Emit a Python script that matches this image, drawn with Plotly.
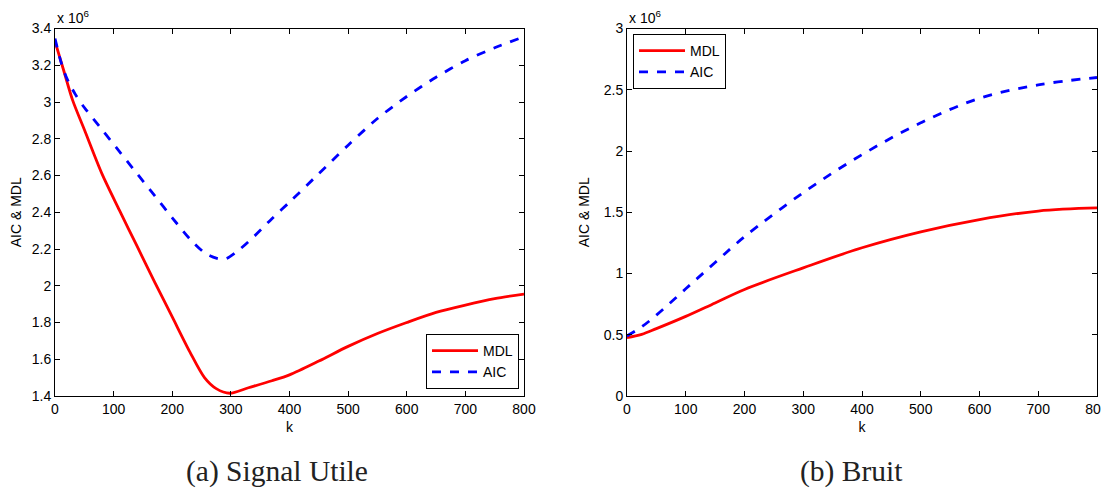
import plotly.graph_objects as go
from plotly.subplots import make_subplots

# (a) Signal Utile  -- values in units of 1e6
k_a_mdl = [0, 15, 30, 50, 80, 110, 140, 170, 200, 230, 255, 275, 298, 330, 370, 400, 450, 500, 550, 600, 650,
           700, 750, 800]
mdl_a = [3.33, 3.17, 3.01, 2.85, 2.61, 2.41, 2.215, 2.02, 1.83, 1.64, 1.50, 1.44, 1.415, 1.445, 1.483, 1.515, 1.59,
         1.67, 1.74, 1.80, 1.855, 1.895, 1.93, 1.955]
k_a_aic = [0, 10, 20, 35, 50, 80, 110, 140, 170, 200, 230, 255, 275, 290, 310, 340, 370, 400, 450, 500, 550, 600,
           650, 700, 750, 800]
aic_a = [3.345, 3.22, 3.13, 3.04, 2.97, 2.85, 2.73, 2.61, 2.49, 2.37, 2.255, 2.18, 2.15, 2.145, 2.185, 2.27, 2.365,
         2.455, 2.61, 2.765, 2.91, 3.03, 3.135, 3.225, 3.295, 3.355]

# (b) Bruit
k_b = [0, 25, 50, 100, 150, 200, 300, 400, 500, 600, 700, 800]
mdl_b = [0.476, 0.503, 0.55, 0.65, 0.76, 0.87, 1.046, 1.21, 1.34, 1.44, 1.51, 1.535]
aic_b = [0.49, 0.565, 0.66, 0.875, 1.09, 1.30, 1.66, 1.97, 2.23, 2.43, 2.54, 2.60]

x_ticks = [0, 100, 200, 300, 400, 500, 600, 700, 800]
ya_ticks = [1.4, 1.6, 1.8, 2, 2.2, 2.4, 2.6, 2.8, 3, 3.2, 3.4]
yb_ticks = [0, 0.5, 1, 1.5, 2, 2.5, 3]

W, H = 1109, 494
OFF = 8  # page body margin pushes the figure by 8px
FW, FH = W - OFF, H - OFF
FONT = "Liberation Sans, Arial"


def px_x(s):
    return (s - OFF) / FW


def px_y(s):
    return 1 - (s - OFF) / FH


fig = make_subplots(rows=1, cols=2)

fig.add_trace(go.Scatter(x=k_a_mdl, y=mdl_a, name="MDL", mode="lines", line_shape="spline",
                         line=dict(color="red", width=2.8, smoothing=0.8), legend="legend"), row=1, col=1)
fig.add_trace(go.Scatter(x=k_a_aic, y=aic_a, name="AIC", mode="lines", line_shape="spline",
                         line=dict(color="blue", width=2.8, dash="dash", smoothing=0.8), legend="legend"), row=1, col=1)
fig.add_trace(go.Scatter(x=k_b, y=mdl_b, name="MDL", mode="lines", line_shape="spline",
                         line=dict(color="red", width=2.8), legend="legend2"), row=1, col=2)
fig.add_trace(go.Scatter(x=k_b, y=aic_b, name="AIC", mode="lines", line_shape="spline",
                         line=dict(color="blue", width=2.8, dash="dash"), legend="legend2"), row=1, col=2)

axis_style = dict(showgrid=False, zeroline=False, showline=True, linecolor="black", linewidth=1,
                  mirror="ticks", ticks="inside", ticklen=5, tickcolor="black", automargin=False,
                  tickfont=dict(family=FONT, size=14, color="black"))

fig.update_xaxes(axis_style)
fig.update_yaxes(axis_style)

y_dom = [px_y(396), px_y(28.5)]
xa_dom = [px_x(55), px_x(524)]
xb_dom = [px_x(627), px_x(1097)]

k_title = dict(text="k", standoff=6, font=dict(family=FONT, size=14, color="black"))
y_title = dict(text="AIC & MDL", standoff=10, font=dict(family=FONT, size=14, color="black"))

fig.update_xaxes(range=[0, 800], tickvals=x_ticks, domain=xa_dom, title=k_title, row=1, col=1)
fig.update_xaxes(range=[0, 800], tickvals=x_ticks, domain=xb_dom, title=k_title, row=1, col=2)
fig.update_yaxes(range=[1.4, 3.4], tickvals=ya_ticks, ticktext=[f"{v:g}" for v in ya_ticks],
                 domain=y_dom, title=y_title, row=1, col=1)
fig.update_yaxes(range=[0, 3], tickvals=yb_ticks, ticktext=[f"{v:g}" for v in yb_ticks],
                 domain=y_dom, title=y_title, row=1, col=2)

legend_style = dict(bgcolor="white", bordercolor="black", borderwidth=1,
                    font=dict(family=FONT, size=14, color="black"),
                    xref="paper", yref="paper", tracegroupgap=0, itemwidth=46)

caption_font = dict(family="Liberation Serif, Times New Roman", size=29.5, color="#222")

fig.update_layout(
    width=FW, height=FH,
    margin=dict(l=0, r=0, t=0, b=0, autoexpand=False),
    paper_bgcolor="white", plot_bgcolor="white",
    legend=dict(legend_style, x=px_x(519), y=px_y(389), xanchor="right", yanchor="bottom"),
    legend2=dict(legend_style, x=px_x(633), y=px_y(34), xanchor="left", yanchor="top"),
    annotations=[
        dict(text="x 10<sup>6</sup>", x=xa_dom[0], y=y_dom[1], xref="paper", yref="paper",
             xanchor="left", yanchor="bottom", showarrow=False,
             font=dict(family=FONT, size=14, color="black")),
        dict(text="x 10<sup>6</sup>", x=xb_dom[0], y=y_dom[1], xref="paper", yref="paper",
             xanchor="left", yanchor="bottom", showarrow=False,
             font=dict(family=FONT, size=14, color="black")),
        dict(text="(a) Signal Utile", x=px_x(277), y=px_y(471), xref="paper", yref="paper",
             xanchor="center", yanchor="middle", showarrow=False, font=caption_font),
        dict(text="(b) Bruit", x=px_x(851), y=px_y(471), xref="paper", yref="paper",
             xanchor="center", yanchor="middle", showarrow=False, font=caption_font),
    ],
)

fig.write_html("out.html")
